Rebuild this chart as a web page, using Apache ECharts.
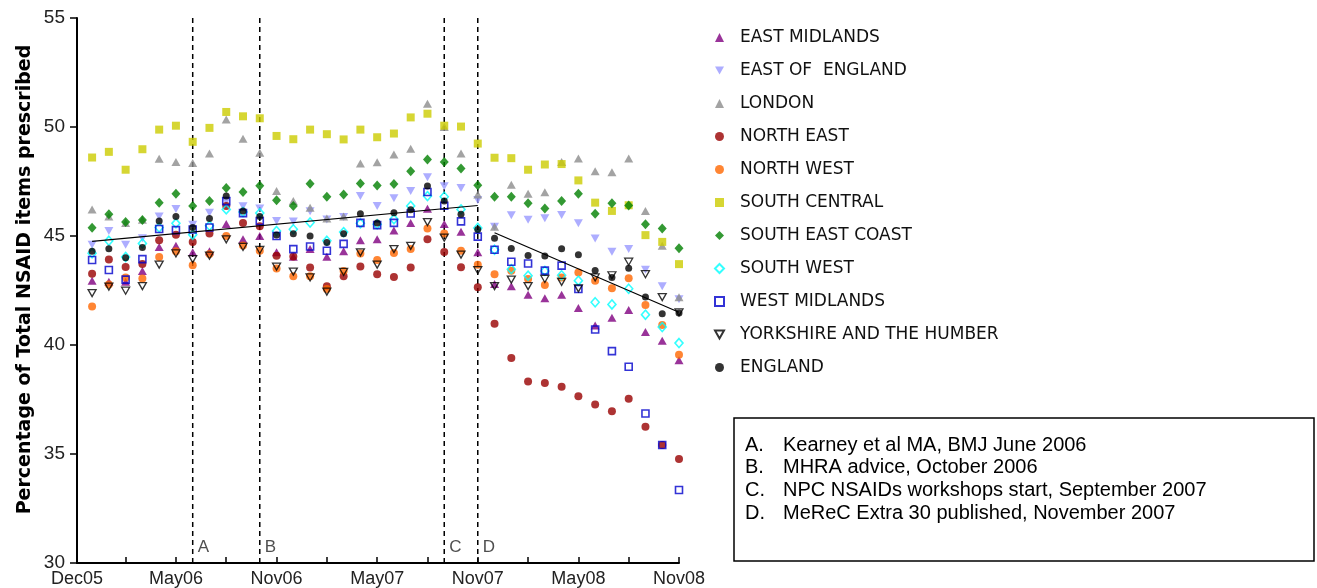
<!DOCTYPE html>
<html><head><meta charset="utf-8">
<script src="https://cdn.jsdelivr.net/npm/echarts@6/dist/echarts.min.js"></script>
<style>html,body{margin:0;padding:0;background:#fff}#c{width:1317px;height:588px}</style>
</head><body><div id="c"></div>
<script>
// ---- data (monthly, Dec05 .. Nov08, index 0..35) ----
const tickLabels = ['Dec05','May06','Nov06','May07','Nov07','May08','Nov08'];
const tickIndex  = [-0.9, 5, 11, 17, 23, 29, 35];
const minorTickIndex = [2, 8, 14, 20, 26, 32];

const eastMidlands = [42.95,42.9,42.9,43.4,44.5,44.55,44.25,44.3,45.55,44.85,45.0,44.25,44.05,44.4,44.05,44.3,44.8,44.85,45.25,45.6,46.25,45.55,45.2,44.25,42.8,42.7,42.3,42.15,42.3,41.7,40.9,41.25,41.6,40.6,40.2,39.3];
const eastOfEngland = [44.6,45.23,44.6,44.9,45.9,46.24,45.52,46.07,46.6,46.37,46.26,45.69,45.66,46.13,45.76,45.87,46.83,46.38,46.73,47.06,47.7,47.28,47.2,46.65,45.42,45.95,45.74,45.81,45.96,45.58,44.89,44.28,44.4,43.45,42.69,42.1];
const london = [46.22,45.9,45.6,45.75,48.54,48.4,48.35,48.78,50.34,49.46,48.82,47.06,46.6,46.3,45.8,45.9,48.32,48.38,48.74,49.0,51.07,50.0,48.78,46.9,45.42,47.35,46.94,47.01,48.4,48.56,47.97,47.92,48.56,46.15,44.55,42.19];
const northEast = [43.27,43.92,43.58,43.71,44.8,45.06,44.73,45.12,46.38,45.6,45.45,44.09,44.06,43.55,42.7,43.15,43.6,43.25,43.12,43.56,44.85,44.27,43.57,42.65,40.97,39.4,38.33,38.26,38.08,37.65,37.27,36.96,37.54,36.25,35.41,34.77];
const northWest = [41.77,42.78,43.1,43.05,44.04,44.3,43.66,44.18,45.0,44.56,44.32,43.51,43.15,43.15,42.57,43.4,44.2,43.9,44.22,44.4,45.34,45.11,44.32,43.68,43.25,43.41,43.03,42.75,43.1,43.33,42.95,42.6,43.06,41.84,40.92,39.55];
const southCentral = [48.6,48.86,48.04,48.98,49.88,50.06,49.32,49.96,50.69,50.49,50.4,49.59,49.44,49.88,49.67,49.43,49.88,49.53,49.7,50.44,50.61,50.06,50.02,49.24,48.59,48.57,48.04,48.28,48.3,47.55,46.53,46.15,46.41,45.04,44.73,43.71];
const southEastCoast = [45.38,46.0,45.64,45.73,46.52,46.94,46.38,46.6,47.2,47.02,47.3,46.64,46.38,47.4,46.8,46.9,47.41,47.32,47.38,47.97,48.51,48.4,48.1,47.33,46.8,46.8,46.5,46.26,46.6,46.94,46.02,46.5,46.4,45.54,45.34,44.44];
const southWest = [44.21,44.78,44.04,44.66,45.39,45.58,45.06,45.47,46.22,46.1,46.05,45.23,45.31,45.62,44.78,45.18,45.58,45.54,45.77,46.38,46.83,46.8,46.22,45.37,44.37,43.48,43.18,43.4,43.2,42.95,41.96,41.86,42.58,41.39,40.82,40.09];
const westMidlands = [43.9,43.44,43.0,43.94,45.32,45.27,45.3,45.39,46.6,46.05,45.69,45.0,44.4,44.52,44.32,44.64,45.6,45.5,45.6,46.03,47.02,46.39,45.67,44.97,44.37,43.82,43.74,43.41,43.64,42.57,40.71,39.72,39.0,36.86,35.41,33.35];
const yorkshire = [42.38,42.68,42.49,42.7,43.69,44.2,43.94,44.1,44.85,44.5,44.36,43.6,43.37,43.1,42.45,43.35,44.25,43.69,44.4,44.55,45.64,44.93,44.15,43.43,42.7,43.0,42.7,43.03,42.9,42.6,43.1,43.2,43.82,43.25,42.2,41.5];
const england = [44.3,44.42,44.0,44.47,45.69,45.9,45.39,45.8,46.83,46.15,45.9,45.05,45.1,45.0,44.7,45.1,46.02,45.6,46.07,46.2,47.29,46.6,46.0,45.3,44.9,44.43,44.1,44.08,44.42,44.14,43.42,43.1,43.52,42.2,41.43,41.47];

const trendBefore = [[0,44.75],[23,46.4]];
const trendAfter  = [[24,45.15],[35,41.5]];

const eventLetters = ['A','B','C','D'];
const eventIndex   = [6, 10, 21, 23];
const eventNotes = ['Kearney et al MA, BMJ June 2006','MHRA advice, October 2006','NPC NSAIDs workshops start, September 2007','MeReC Extra 30 published, November 2007'];

// ---- series ----
const invTri = 'path://M0,0L10,0L5,9Z';
const clear = 'rgba(255,255,255,0)';
const regions = [
  {name:'EAST MIDLANDS', data:eastMidlands, symbol:'triangle', size:[9,8], style:{color:'#800080'}},
  {name:'EAST OF  ENGLAND', data:eastOfEngland, symbol:invTri, size:[9,8], style:{color:'#9999FF'}},
  {name:'LONDON', data:london, symbol:'triangle', size:[9,8], style:{color:'#8c8c8c'}},
  {name:'NORTH EAST', data:northEast, symbol:'circle', size:8, style:{color:'#990000'}},
  {name:'NORTH WEST', data:northWest, symbol:'circle', size:8, style:{color:'#FF6600'}},
  {name:'SOUTH CENTRAL', data:southCentral, symbol:'rect', size:8, style:{color:'#CCCC00'}},
  {name:'SOUTH EAST COAST', data:southEastCoast, symbol:'diamond', size:[9,10], style:{color:'#008000'}},
  {name:'SOUTH WEST', data:southWest, symbol:'diamond', size:[8,9], style:{color:clear, borderColor:'#00FFFF', borderWidth:1.6}},
  {name:'WEST MIDLANDS', data:westMidlands, symbol:'rect', size:7, style:{color:clear, borderColor:'#0000CC', borderWidth:1.6}},
  {name:'YORKSHIRE AND THE HUMBER', data:yorkshire, symbol:invTri, size:[8,7], style:{color:clear, borderColor:'#000', borderWidth:1.3}},
  {name:'ENGLAND', data:england, symbol:'circle', size:7, style:{color:'#000'}}
];

const series = regions.map(r => ({
  name:r.name, type:'scatter', symbol:r.symbol, symbolSize:r.size,
  itemStyle:r.style, data:r.data.map((v,i)=>[i,v]), z:3
}));

series.push({type:'line', data:trendBefore, symbol:'none', lineStyle:{color:'#000', width:1.2}, z:4, silent:true});
series.push({type:'line', data:trendAfter, symbol:'none', lineStyle:{color:'#000', width:1.2}, z:4, silent:true});

eventIndex.forEach((x,k)=>{
  series.push({type:'line', symbol:'none', silent:true, z:2,
    lineStyle:{color:'#000', width:1.5, type:[5,4]},
    data:[[x,30],[x,55]]});
  series.push({type:'scatter', symbolSize:0, silent:true, z:5,
    data:[[x,30.72]],
    label:{show:true, position:'right', distance:5, formatter:eventLetters[k], fontFamily:'Liberation Sans', fontSize:17, color:'#222'}});
});

const chart = echarts.init(document.getElementById('c'), null, {renderer:'canvas'});
const noteText = [];
eventLetters.forEach((l,k)=>{
  noteText.push({type:'text', z:20, left:745, top:435 + k*22.7, style:{text:l+'.', font:'20px "Liberation Sans"', fill:'#000'}});
  noteText.push({type:'text', z:20, left:783, top:435 + k*22.7, style:{text:eventNotes[k], font:'20px "Liberation Sans"', fill:'#000'}});
});

chart.setOption({
  animation:false,
  backgroundColor:'#fff',
  grid:{left:77, right:638, top:18, bottom:23, containLabel:false},
  xAxis:{type:'value', min:-0.9, max:35,
    axisLine:{onZero:false, lineStyle:{color:'#000', width:2}},
    axisTick:{inside:true, length:6, lineStyle:{color:'#000', width:1.5}, customValues:minorTickIndex.concat(tickIndex)},
    axisLabel:{customValues:tickIndex, margin:7, fontFamily:'Liberation Sans', fontSize:18, color:'#222',
      formatter:v=>{const k=tickIndex.findIndex(t=>Math.abs(t-v)<0.01); return k>=0?tickLabels[k]:'';}},
    splitLine:{show:false}},
  yAxis:{type:'value', min:30, max:55, interval:5,
    name:'Percentage of Total NSAID items prescribed', nameLocation:'middle', nameRotate:90, nameGap:42,
    nameTextStyle:{fontFamily:'DejaVu Sans', fontWeight:'bold', fontSize:19, color:'#000', padding:[0,0,0,22]},
    axisLine:{show:true, onZero:false, lineStyle:{color:'#000', width:2}},
    axisTick:{show:true, length:7, lineStyle:{color:'#000', width:1.5}},
    axisLabel:{margin:12, fontFamily:'Liberation Sans', fontSize:19, color:'#222'},
    splitLine:{show:false}},
  legend:{orient:'vertical', left:709, top:24, itemWidth:9, itemHeight:9, itemGap:16, selectedMode:false,
    data:regions.map(r=>r.name),
    textStyle:{fontFamily:'DejaVu Sans', fontSize:17, color:'#111', padding:[0,0,0,11]}},
  graphic:[{type:'rect', z:10, shape:{x:734, y:418, width:580, height:143}, style:{fill:'#fff', stroke:'#000', lineWidth:1.5}}].concat(noteText),
  series:series
});
</script></body></html>
